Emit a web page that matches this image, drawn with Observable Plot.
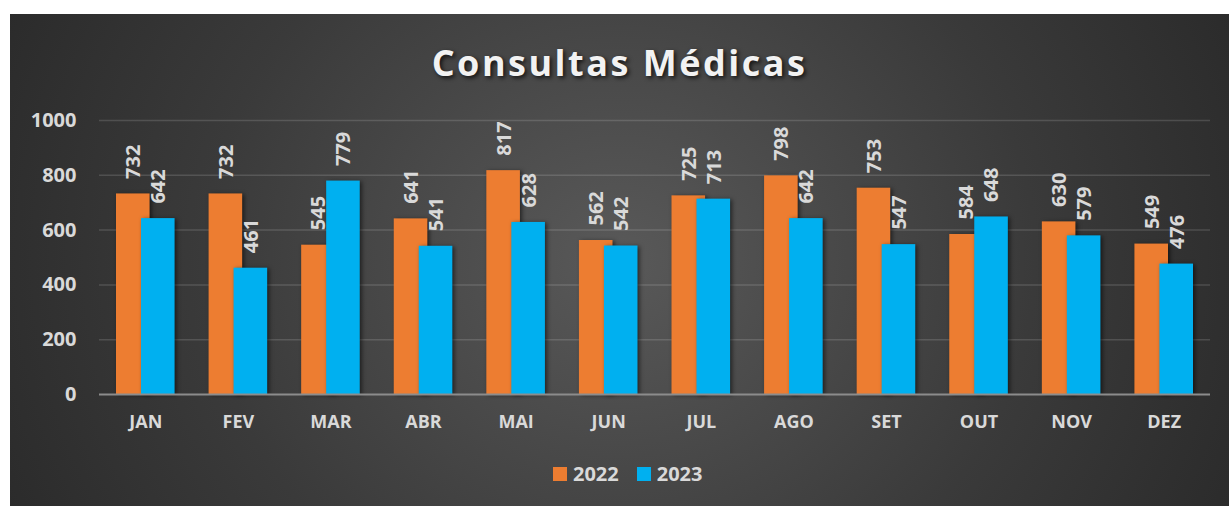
<!DOCTYPE html>
<html><head><meta charset="utf-8">
<script src="https://cdn.jsdelivr.net/npm/d3@7"></script>
<script src="https://cdn.jsdelivr.net/npm/@observablehq/plot@0.6"></script>
<style>
html,body{margin:0;padding:0;background:#fff;}
#chart{position:absolute;left:10px;top:14px;width:1219px;height:492px;overflow:hidden;
  background:radial-gradient(ellipse 62% 140% at 50% 50%, #595959 0%, #3a3a3a 55%, #262626 100%);
  font-family:"Open Sans",sans-serif;}
#title{position:absolute;left:0;width:100%;top:24px;line-height:49px;text-align:center;font-size:36px;font-weight:700;color:#f2f2f2;letter-spacing:2.5px;text-shadow:2px 2px 4px rgba(0,0,0,0.75);}
#legend{position:absolute;left:543px;top:446px;display:flex;align-items:center;font-size:20px;font-weight:700;color:#d9d9d9;line-height:27px;}
.sw{width:14px;height:14px;display:inline-block;margin-right:6px;}
.item{display:flex;align-items:center;margin-right:18px;}
#plot{position:absolute;left:0;top:0;}
</style></head>
<body>
<div id="chart">
  <div id="plot"></div>
  <div id="title">Consultas Médicas</div>
  <div id="legend"></div>
</div>
<script>
const months = ["JAN","FEV","MAR","ABR","MAI","JUN","JUL","AGO","SET","OUT","NOV","DEZ"];
const v2022 = [732,732,545,641,817,562,725,798,753,584,630,549];
const v2023 = [642,461,779,541,628,542,713,642,547,648,579,476];
const seriesNames = ["2022","2023"];
const seriesColors = ["#ED7D31","#00B0F0"];
const yTicks = [0,200,400,600,800,1000];

const data = months.map((m,i)=>({month:m, a:v2022[i], b:v2023[i]}));
const labelStyle = {fill:"#d9d9d9", fontSize:20, fontWeight:"bold", rotate:-90, textAnchor:"start", lineAnchor:"middle"};

const chart = Plot.plot({
  width:1219, height:492,
  marginTop:106, marginBottom:112, marginLeft:89, marginRight:19,
  style:{background:"transparent", fontFamily:"Open Sans, sans-serif", overflow:"visible"},
  x:{type:"band", domain:months, padding:0, round:false, label:null},
  y:{domain:[0,1000], label:null},
  marks:[
    Plot.gridY(yTicks.filter(d=>d>0), {stroke:"#ffffff", strokeOpacity:0.14, strokeWidth:1.5}),
    Plot.axisY(yTicks, {tickSize:0, tickPadding:23, tickFormat:d=>String(d), fill:"#d9d9d9", fontSize:20, fontWeight:"bold", label:null}),
    Plot.axisX({tickSize:0, tickPadding:21, lineAnchor:"top", fill:"#d9d9d9", fontSize:18, fontWeight:"bold", label:null}),
    Plot.barY(data, {x:"month", y:"a", fill:seriesColors[0], insetLeft:17, insetRight:42}),
    Plot.barY(data, {x:"month", y:"b", fill:seriesColors[1], insetLeft:42, insetRight:17}),
    Plot.ruleY([0], {stroke:"#8c8c8c", strokeWidth:2}),
    Plot.text(data, {x:"month", y:"a", text:d=>String(d.a), dx:-12, dy:-15, ...labelStyle}),
    Plot.text(data, {x:"month", y:"b", text:d=>String(d.b), dx:13, dy:-15, ...labelStyle})
  ]
});
chart.querySelectorAll('g[aria-label="bar"]').forEach(g=>{
  g.style.filter = "drop-shadow(2px 1px 2px rgba(0,0,0,0.55))";
});
document.getElementById("plot").appendChild(chart);

const leg = document.getElementById("legend");
seriesNames.forEach((n,i)=>{
  const it = document.createElement("div"); it.className="item";
  const sw = document.createElement("span"); sw.className="sw"; sw.style.background=seriesColors[i];
  const t = document.createElement("span"); t.textContent = n;
  it.appendChild(sw); it.appendChild(t); leg.appendChild(it);
});
</script>
</body></html>
